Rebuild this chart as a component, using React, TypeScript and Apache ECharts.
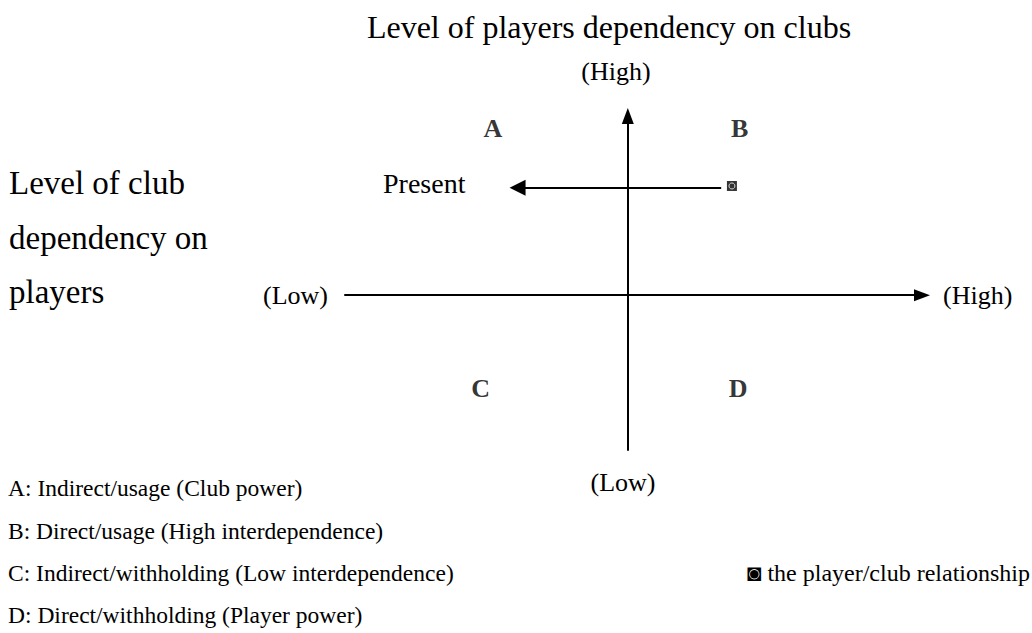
import React, { useEffect, useRef } from "react";
import * as echarts from "echarts";

const FONT = "Liberation Serif";

const title = "Level of players dependency on clubs";
const sideLabel = ["Level of club", "dependency on", "players"];
const axisEnds = { xLow: "(Low)", xHigh: "(High)", yLow: "(Low)", yHigh: "(High)" };
const quadrantNames = ["A", "B", "C", "D"];
const quadrantPos: [number, number][] = [
  [-4.77, 8.93],
  [3.95, 8.93],
  [-5.2, -5.0],
  [3.9, -5.0],
];
const relationshipPoint: [number, number] = [3.68, 5.85];
const presentArrow: [number, number][] = [
  [3.3, 5.75],
  [-3.9, 5.75],
];
const presentLabel = "Present";
const legendLines = [
  "A: Indirect/usage (Club power)",
  "B: Direct/usage (High interdependence)",
  "C: Indirect/withholding (Low interdependence)",
  "D: Direct/withholding (Player power)",
];
const markerLegend = "◙ the player/club relationship";

const X_MIN = -10;
const X_MAX = 10.4;
const Y_MIN = -8.3;
const Y_MAX = 9.6;

export default function App() {
  const ref = useRef<HTMLDivElement>(null);
  useEffect(() => {
    if (!ref.current) return;
    const chart = echarts.init(ref.current, null, { renderer: "svg" });
    const txt = (text: string, x: number, y: number, size: number, align = "left", weight = "normal") => ({
      type: "text",
      x,
      y,
      style: {
        text,
        fill: "#000",
        fontFamily: FONT,
        fontSize: size,
        fontWeight: weight,
        align,
        verticalAlign: "middle",
      },
    });
    const legendY = [488, 531, 573, 615];
    chart.setOption({
      animation: false,
      backgroundColor: "#fff",
      grid: { left: 345, right: 110, top: 116, bottom: 183 },
      xAxis: {
        type: "value",
        min: X_MIN,
        max: X_MAX,
        axisLine: {
          show: true,
          onZero: true,
          symbol: ["none", "triangle"],
          symbolSize: [12, 16],
          lineStyle: { color: "#000", width: 2 },
        },
        axisTick: { show: false },
        axisLabel: { show: false },
        splitLine: { show: false },
      },
      yAxis: {
        type: "value",
        min: Y_MIN,
        max: Y_MAX,
        axisLine: {
          show: true,
          onZero: true,
          symbol: ["none", "triangle"],
          symbolSize: [12, 16],
          lineStyle: { color: "#000", width: 2 },
        },
        axisTick: { show: false },
        axisLabel: { show: false },
        splitLine: { show: false },
      },
      series: [
        {
          type: "scatter",
          symbolSize: 0,
          silent: true,
          data: quadrantNames.map((n, i) => ({ value: quadrantPos[i], name: n })),
          label: {
            show: true,
            formatter: "{b}",
            position: "inside",
            color: "#000",
            fontFamily: FONT,
            fontWeight: "bold",
            fontSize: 26,
          },
        },
        {
          type: "lines",
          coordinateSystem: "cartesian2d",
          silent: true,
          symbol: ["none", "triangle"],
          symbolSize: [12, 16],
          lineStyle: { color: "#000", width: 2, opacity: 1 },
          data: [{ coords: presentArrow }],
        },
        {
          type: "scatter",
          silent: true,
          symbol: "rect",
          symbolSize: 10,
          itemStyle: { color: "#000" },
          data: [relationshipPoint],
        },
        {
          type: "scatter",
          silent: true,
          symbol: "circle",
          symbolSize: 6,
          itemStyle: { color: "transparent", borderColor: "#fff", borderWidth: 1 },
          data: [relationshipPoint],
        },
      ],
      graphic: [
        txt(title, 609, 27, 32, "center"),
        txt(axisEnds.yHigh, 616, 71, 26, "center"),
        txt(axisEnds.yLow, 623, 482, 26, "center"),
        txt(axisEnds.xLow, 328, 295, 26, "right"),
        txt(axisEnds.xHigh, 943, 295, 26, "left"),
        ...sideLabel.map((s, i) => txt(s, 9, [183, 238, 292][i], 33, "left")),
        txt(presentLabel, 383, 183, 28, "left"),
        ...legendLines.map((s, i) => txt(s, 8, legendY[i], 23.5, "left")),
        txt(markerLegend, 1030, legendY[2], 24, "right"),
      ],
    });
    return () => chart.dispose();
  }, []);
  return (
    <div
      ref={ref}
      style={{ position: "absolute", left: 0, top: 0, width: 1032, height: 633, background: "#fff" }}
    />
  );
}
